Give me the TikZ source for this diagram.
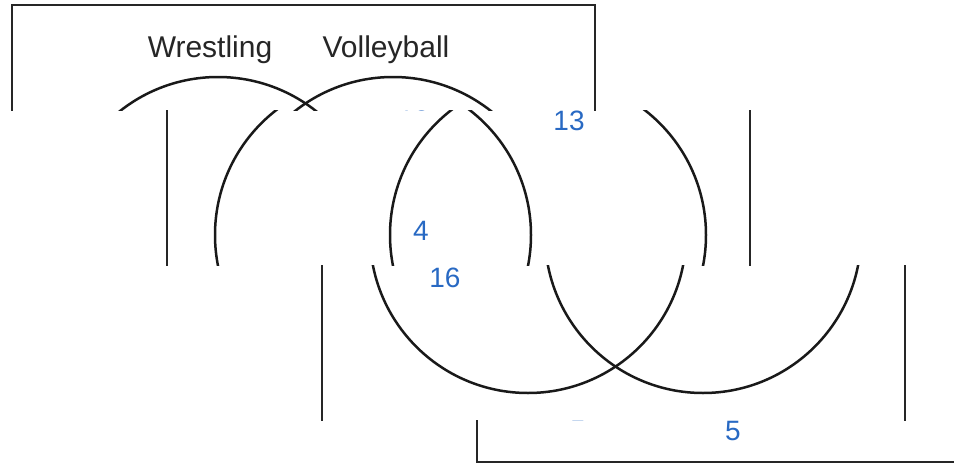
\documentclass[tikz,border=0pt]{standalone}
\usepackage{fontspec}
\setmainfont{Liberation Sans}
\definecolor{numblue}{RGB}{40,105,195}
\tikzset{
  boxline/.style={line width=2pt, black!85},
  vennline/.style={line width=2.5pt, black!90},
  lbl/.style={inner sep=0pt, anchor=base, text=black!85, font=\fontsize{30}{36}\selectfont},
  num/.style={inner sep=0pt, anchor=base, text=numblue, font=\fontsize{28}{34}\selectfont}
}
\newcommand{\myvennshapes}{%
  \draw[boxline] (12,5) rectangle (595,462);
  \draw[vennline] (218,235) circle[radius=158pt];
  \draw[vennline] (393,235) circle[radius=158pt];
}
\begin{document}
\begin{tikzpicture}[x=1pt,y=-1pt]
  \useasboundingbox (0,0) rectangle (954,466);
  \fill[white] (0,0) rectangle (954,466);
  % strip 1
  \begin{scope}
    \clip (0,0) rectangle (954,110);
    \myvennshapes
    \node[lbl] (wr) at (210,57) {Wrestling};
    \node[lbl] (vb) at (386,57) {Volleyball};
    \node[num] (n13top) at (414,130) {13};
  \end{scope}
  % strip 2
  \begin{scope}
    \clip (0,110) rectangle (954,265);
    \begin{scope}[xshift=155pt]
      \myvennshapes
      \node[num] (n13) at (414,130) {13};
      \node[num] (n4) at (266,240) {4};
    \end{scope}
  \end{scope}
  % strip 3
  \begin{scope}
    \clip (0,265) rectangle (954,420);
    \begin{scope}[xshift=310pt]
      \myvennshapes
      \node[num] (n16) at (135,287) {16};
      \node[num] (n5top) at (268,440) {5};
    \end{scope}
  \end{scope}
  % strip 4
  \begin{scope}
    \clip (0,420) rectangle (954,466);
    \begin{scope}[xshift=465pt]
      \myvennshapes
      \node[num] (n5) at (268,440) {5};
    \end{scope}
  \end{scope}
\end{tikzpicture}
\end{document}
